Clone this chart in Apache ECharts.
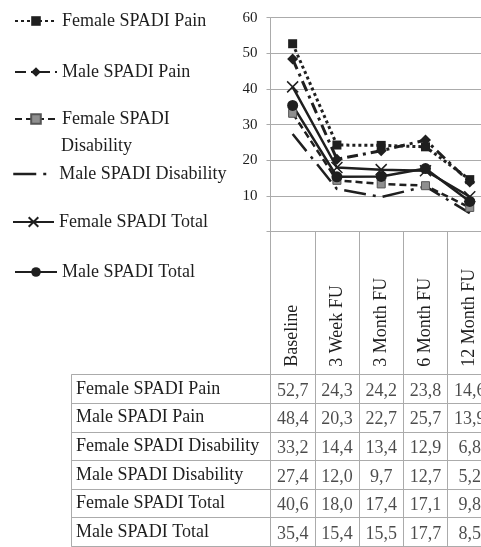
<!DOCTYPE html>
<html>
<head>
<meta charset="utf-8">
<script src="https://cdn.jsdelivr.net/npm/echarts@6/dist/echarts.min.js"></script>
<style>
html,body{margin:0;padding:0;background:#fff;}
#c{width:481px;height:547px;}
</style>
</head>
<body>
<div id="c"></div>
<script>
var categories = ['Baseline', '3 Week FU', '3 Month FU', '6 Month FU', '12 Month FU'];
var seriesNames = ['Female SPADI Pain', 'Male SPADI Pain', 'Female SPADI Disability', 'Male SPADI Disability', 'Female SPADI Total', 'Male SPADI Total'];
var femalePain = [52.7, 24.3, 24.2, 23.8, 14.6];
var malePain = [48.4, 20.3, 22.7, 25.7, 13.9];
var femaleDisability = [33.2, 14.4, 13.4, 12.9, 6.8];
var maleDisability = [27.4, 12.0, 9.7, 12.7, 5.2];
var femaleTotal = [40.6, 18.0, 17.4, 17.1, 9.8];
var maleTotal = [35.4, 15.4, 15.5, 17.7, 8.5];
var yTicks = [0, 10, 20, 30, 40, 50, 60];

var allValues = [femalePain, malePain, femaleDisability, maleDisability, femaleTotal, maleTotal];

var FONT = '"Liberation Serif", "Times New Roman", serif';
var TXT = '#1e1e1e';
var GRID = '#ababab';
var LINE = '#1f1f1f';

var styles = [
  {symbol: 'rect', symbolSize: 9, itemStyle: {color: '#1f1f1f'}, lineStyle: {type: [3, 3], width: 3}},
  {symbol: 'diamond', symbolSize: 11, itemStyle: {color: '#1f1f1f'}, lineStyle: {type: [11, 5, 3, 5], width: 3}},
  {symbol: 'rect', symbolSize: 8, itemStyle: {color: '#8f8f8f', borderColor: '#555', borderWidth: 1}, lineStyle: {type: [7, 4], width: 2.5}},
  {symbol: 'none', symbolSize: 0, itemStyle: {color: '#1f1f1f'}, lineStyle: {type: [22, 7, 3, 7], width: 2.5}},
  {symbol: 'path://M0,0L10,10M10,0L0,10', symbolSize: 11, itemStyle: {color: 'rgba(0,0,0,0)', borderColor: '#1f1f1f', borderWidth: 1.5}, lineStyle: {type: 'solid', width: 2.5}},
  {symbol: 'circle', symbolSize: 11, itemStyle: {color: '#1f1f1f'}, lineStyle: {type: 'solid', width: 2.5}}
];

var lineSeries = seriesNames.map(function (name, i) {
  var st = styles[i];
  return {
    name: name,
    type: 'line',
    xAxisIndex: 0,
    yAxisIndex: 0,
    data: allValues[i],
    symbol: st.symbol,
    symbolSize: st.symbolSize,
    showSymbol: st.symbol !== 'none',
    itemStyle: st.itemStyle,
    lineStyle: Object.assign({color: LINE}, st.lineStyle),
    color: LINE,
    animation: false,
    z: 3
  };
});

var tableData = [];
allValues.forEach(function (vals, r) {
  vals.forEach(function (v, c) {
    tableData.push([c, r, v]);
  });
});

var tableSeries = {
  name: 'table',
  type: 'scatter',
  xAxisIndex: 1,
  yAxisIndex: 1,
  data: tableData,
  symbolSize: 0,
  silent: true,
  animation: false,
  label: {
    show: true,
    position: 'inside',
    offset: [0, 2],
    fontFamily: FONT,
    fontSize: 18,
    color: TXT,
    formatter: function (p) { return p.value[2].toFixed(1).replace('.', ','); }
  }
};

var legendPos = [
  {left: 14, top: 11, w: 42},
  {left: 14, top: 62, w: 42},
  {left: 14, top: 109, w: 42},
  {left: 12, top: 164, w: 41},
  {left: 12, top: 212, w: 41},
  {left: 14, top: 262, w: 42}
];

var legends = seriesNames.map(function (name, i) {
  var item = {name: name};
  if (styles[i].symbol === 'none') {
    item.itemStyle = {color: 'rgba(0,0,0,0)', borderWidth: 0};
    item.lineStyle = {type: [23, 7, 3, 20], width: 2.5, color: LINE};
  }
  return {
    data: [item],
    orient: 'vertical',
    left: legendPos[i].left,
    top: legendPos[i].top,
    padding: 0,
    itemWidth: legendPos[i].w,
    itemHeight: 12,
    selectedMode: false,
    textStyle: {fontFamily: FONT, fontSize: 18, color: TXT, lineHeight: 20},
    formatter: function (n) { return n === 'Female SPADI Disability' ? 'Female SPADI' : n; }
  };
});

var chart = echarts.init(document.getElementById('c'), null, {renderer: 'canvas'});
chart.setOption({
  backgroundColor: '#fff',
  animation: false,
  legend: legends,
  graphic: [{
    type: 'text',
    left: 61,
    top: 137,
    style: {text: 'Disability', font: '18px ' + FONT, fill: TXT}
  }],
  grid: [
    {left: 270.5, top: 17.7, width: 221.4, height: 214, containLabel: false, outerBoundsMode: 'none'},
    {left: 270.5, top: 374.7, width: 221.4, height: 171.6, containLabel: false, outerBoundsMode: 'none'}
  ],
  xAxis: [
    {
      gridIndex: 0, type: 'category', data: categories, boundaryGap: true,
      axisLine: {show: true, lineStyle: {color: GRID, width: 1}},
      axisTick: {show: false}, axisLabel: {show: false}, splitLine: {show: false}
    },
    {
      gridIndex: 1, type: 'category', data: categories, boundaryGap: true, position: 'top',
      axisLine: {show: true, lineStyle: {color: GRID, width: 1}},
      axisTick: {show: true, interval: 0, length: 143, alignWithLabel: false, lineStyle: {color: GRID, width: 1}},
      axisLabel: {show: true, interval: 0, rotate: -90, margin: 8, fontFamily: FONT, fontSize: 18, color: TXT},
      splitLine: {show: true, interval: 0, lineStyle: {color: GRID, width: 1}}
    }
  ],
  yAxis: [
    {
      gridIndex: 0, type: 'value', min: yTicks[0], max: yTicks[yTicks.length - 1], interval: 10,
      axisLine: {show: true, lineStyle: {color: GRID, width: 1}},
      axisTick: {show: true, length: 4, lineStyle: {color: GRID}},
      axisLabel: {show: true, margin: 13, fontFamily: FONT, fontSize: 15, color: TXT,
        formatter: function (v) { return v === 0 ? '' : String(v); }},
      splitLine: {show: true, lineStyle: {color: GRID, width: 1}}
    },
    {
      gridIndex: 1, type: 'category', data: seriesNames, inverse: true, boundaryGap: true,
      axisLine: {show: true, lineStyle: {color: GRID, width: 1}},
      axisTick: {show: true, interval: 0, length: 199, alignWithLabel: false, lineStyle: {color: GRID, width: 1}},
      axisLabel: {show: true, interval: 0, align: 'left', margin: 194.5, fontFamily: FONT, fontSize: 18, color: TXT,
        padding: [4, 0, 0, 0]},
      splitLine: {show: true, interval: 0, lineStyle: {color: GRID, width: 1}}
    },
    {
      gridIndex: 1, type: 'category', data: seriesNames, inverse: true, position: 'left', offset: 199,
      axisLine: {show: true, lineStyle: {color: GRID, width: 1}},
      axisTick: {show: false}, axisLabel: {show: false}, splitLine: {show: false}
    }
  ],
  series: lineSeries.concat([tableSeries])
});
</script>
</body>
</html>
